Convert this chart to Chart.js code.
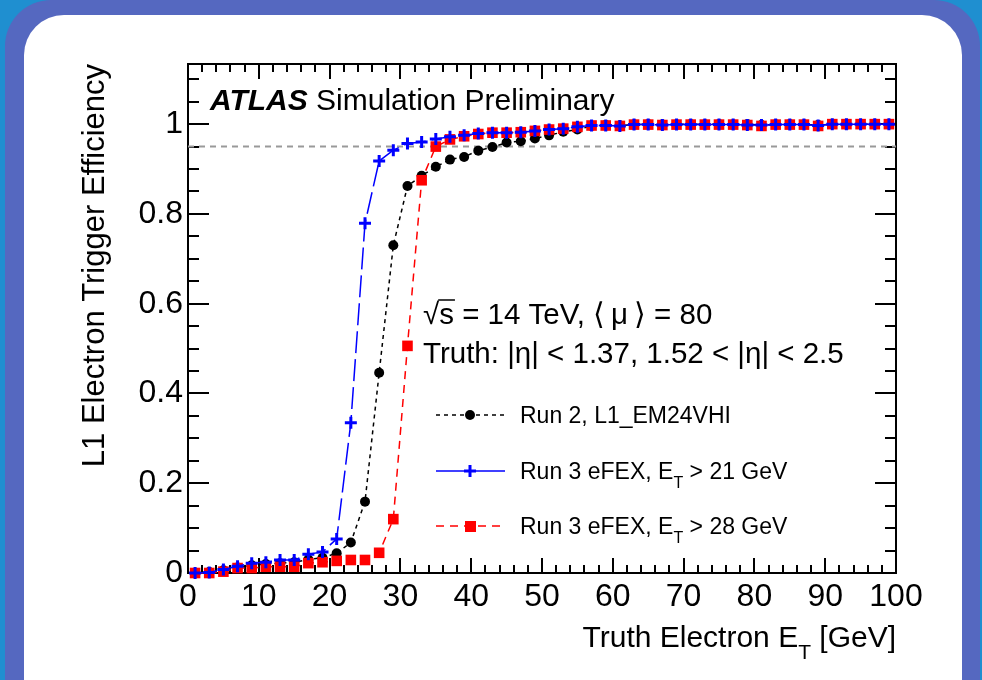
<!DOCTYPE html>
<html>
<head>
<meta charset="utf-8">
<script src="https://cdn.jsdelivr.net/npm/chart.js@4/dist/chart.umd.min.js"></script>
<style>
html, body { margin: 0; padding: 0; background: #1f8fd0; }
#wrap { width: 982px; height: 680px; }
</style>
</head>
<body>
<div id="wrap"><canvas id="eff" width="982" height="680"></canvas></div>
<script>
/*===== DATA =====*/

const truthEt = [1, 3, 5, 7, 9, 11, 13, 15, 17, 19,
                 21, 23, 25, 27, 29, 31, 33, 35, 37, 39,
                 41, 43, 45, 47, 49, 51, 53, 55, 57, 59,
                 61, 63, 65, 67, 69, 71, 73, 75, 77, 79,
                 81, 83, 85, 87, 89, 91, 93, 95, 97, 99];

// Run 2, L1_EM24VHI
const run2 = [0.000, 0.002, 0.006, 0.012, 0.017, 0.020, 0.022, 0.024, 0.030, 0.034,
              0.044, 0.068, 0.159, 0.446, 0.730, 0.862, 0.885, 0.905, 0.921, 0.927,
              0.941, 0.949, 0.959, 0.962, 0.968, 0.975, 0.983, 0.988, 0.996, 0.998,
              0.997, 0.999, 1.000, 0.999, 0.999, 1.000, 0.999, 1.000, 0.999, 1.000,
              0.998, 0.999, 1.000, 0.999, 0.998, 1.000, 0.999, 1.000, 1.000, 1.000];

// Run 3 eFEX, ET > 21 GeV
const efex21 = [0.000, 0.001, 0.008, 0.015, 0.022, 0.024, 0.029, 0.029, 0.042, 0.047,
                0.076, 0.335, 0.779, 0.918, 0.942, 0.957, 0.960, 0.967, 0.972, 0.975,
                0.979, 0.981, 0.981, 0.982, 0.985, 0.988, 0.990, 0.994, 0.997, 0.997,
                0.996, 0.999, 0.999, 0.998, 0.999, 0.999, 0.999, 0.999, 0.999, 0.998,
                0.998, 0.999, 0.999, 0.999, 0.997, 1.000, 1.000, 1.000, 1.000, 1.000];

// Run 3 eFEX, ET > 28 GeV
const efex28 = [0.000, 0.000, 0.003, 0.011, 0.011, 0.014, 0.014, 0.014, 0.022, 0.024,
                0.027, 0.029, 0.029, 0.045, 0.120, 0.506, 0.875, 0.950, 0.966, 0.973,
                0.978, 0.981, 0.981, 0.982, 0.985, 0.988, 0.990, 0.994, 0.997, 0.997,
                0.996, 0.999, 0.999, 0.998, 0.999, 0.999, 0.999, 0.999, 0.999, 0.998,
                0.996, 0.999, 0.999, 0.999, 0.996, 1.000, 1.000, 1.000, 1.000, 1.000];

const refLineEt = [0, 100];
const refLineEff = [0.95, 0.95];

const xTickLabels = ["0", "10", "20", "30", "40", "50", "60", "70", "80", "90", "100"];
const yTickLabels = ["0", "0.2", "0.4", "0.6", "0.8", "1"];

/*===== DRAWING HELPERS =====*/

const FONT = '"Liberation Sans", Arial, Helvetica, sans-serif';

var toPoints = function(xs, ys) {
    return xs.map(function(x, i) { return { x: x, y: ys[i] }; });
};

function drawFrame(chart) {
    const ctx = chart.ctx;
    const a = chart.chartArea;
    const x = chart.scales.x;
    const y = chart.scales.y;
    ctx.save();
    ctx.strokeStyle = "#000";
    ctx.lineWidth = 2;
    ctx.beginPath();
    for (let i = 0; i <= 50; i++) {
        const px = Math.round(x.getPixelForValue(i * 2));
        const len = i % 5 === 0 ? 15 : 8;
        ctx.moveTo(px, a.bottom); ctx.lineTo(px, a.bottom - len);
        ctx.moveTo(px, a.top); ctx.lineTo(px, a.top + len);
    }
    for (let i = 0; i * 0.05 <= y.max; i++) {
        const py = Math.round(y.getPixelForValue(i * 0.05));
        const len = i % 4 === 0 ? 21 : 11;
        ctx.moveTo(a.left, py); ctx.lineTo(a.left + len, py);
        ctx.moveTo(a.right, py); ctx.lineTo(a.right - len, py);
    }
    ctx.stroke();
    ctx.strokeRect(a.left, a.top, a.right - a.left, a.bottom - a.top);
    ctx.restore();
}

// text with an E_T style subscript, returns the end x
function subText(ctx, parts, x, y, size) {
    parts.forEach(function(p) {
        if (p.sub) {
            ctx.font = Math.round(size * 0.7) + "px " + FONT;
            ctx.fillText(p.sub, x, y + size * 0.4);
            x += ctx.measureText(p.sub).width;
        } else {
            ctx.font = size + "px " + FONT;
            ctx.fillText(p.t, x, y);
            x += ctx.measureText(p.t).width;
        }
    });
    return x;
}

function subWidth(ctx, parts, size) {
    let w = 0;
    parts.forEach(function(p) {
        ctx.font = (p.sub ? Math.round(size * 0.7) : size) + "px " + FONT;
        w += ctx.measureText(p.sub || p.t).width;
    });
    return w;
}

function legendRow(ctx, yc, kind, parts) {
    ctx.save();
    ctx.lineWidth = 1.5;
    if (kind === "run2") { ctx.strokeStyle = "#000"; ctx.setLineDash([4, 4]); }
    if (kind === "e21") { ctx.strokeStyle = "#0000ff"; ctx.setLineDash([]); }
    if (kind === "e28") { ctx.strokeStyle = "#ff0000"; ctx.setLineDash([8, 6]); }
    ctx.beginPath();
    ctx.moveTo(436, yc); ctx.lineTo(505, yc);
    ctx.stroke();
    ctx.setLineDash([]);
    if (kind === "run2") {
        ctx.fillStyle = "#000";
        ctx.beginPath(); ctx.arc(470, yc, 5, 0, Math.PI * 2); ctx.fill();
    }
    if (kind === "e21") {
        ctx.lineWidth = 3;
        ctx.beginPath();
        ctx.moveTo(464, yc); ctx.lineTo(476, yc);
        ctx.moveTo(470, yc - 6); ctx.lineTo(470, yc + 6);
        ctx.stroke();
    }
    if (kind === "e28") {
        ctx.fillStyle = "#ff0000";
        ctx.fillRect(465, yc - 5, 11, 11);
    }
    ctx.fillStyle = "#000";
    ctx.textBaseline = "alphabetic";
    subText(ctx, parts, 520, yc + 8, 23);
    ctx.restore();
}

function drawTexts(chart) {
    const ctx = chart.ctx;
    ctx.save();
    ctx.fillStyle = "#000";
    ctx.textBaseline = "alphabetic";

    ctx.font = "italic bold 30px " + FONT;
    ctx.fillText("ATLAS", 210, 110);
    const w = ctx.measureText("ATLAS").width;
    ctx.font = "30px " + FONT;
    ctx.fillText(" Simulation Preliminary", 210 + w, 110);

    // sqrt(s) line, overbar drawn by hand
    ctx.font = "29.5px " + FONT;
    let x = 423;
    ctx.fillText("\u221A", x, 324);
    x += ctx.measureText("\u221A").width;
    const sw = ctx.measureText("s").width;
    ctx.fillText("s", x, 324);
    ctx.lineWidth = 1.5;
    ctx.strokeStyle = "#000";
    ctx.beginPath(); ctx.moveTo(x - 1, 300); ctx.lineTo(x + sw + 1, 300); ctx.stroke();
    x += sw;
    ctx.fillText(" = 14 TeV, \u27E8\u2009\u03BC\u2009\u27E9 = 80", x, 324);

    ctx.fillText("Truth: |\u03B7| < 1.37, 1.52 < |\u03B7| < 2.5", 423, 363);

    legendRow(ctx, 415, "run2", [{ t: "Run 2, L1_EM24VHI" }]);
    legendRow(ctx, 471, "e21", [{ t: "Run 3 eFEX, E" }, { sub: "T" }, { t: " > 21 GeV" }]);
    legendRow(ctx, 526, "e28", [{ t: "Run 3 eFEX, E" }, { sub: "T" }, { t: " > 28 GeV" }]);

    // x axis title, right aligned to the frame
    const xt = [{ t: "Truth Electron E" }, { sub: "T" }, { t: " [GeV]" }];
    const xw = subWidth(ctx, xt, 30);
    subText(ctx, xt, chart.chartArea.right - xw, 647, 30);
    ctx.restore();
}

const panel = {
    id: "panel",
    beforeDraw(chart) {
        const ctx = chart.ctx;
        ctx.save();
        ctx.fillStyle = "#1f8fd0";
        ctx.fillRect(0, 0, chart.width, chart.height);
        ctx.fillStyle = "#5568c0";
        ctx.beginPath(); ctx.roundRect(5, 0, 975, 760, 46); ctx.fill();
        ctx.fillStyle = "#ffffff";
        ctx.beginPath(); ctx.roundRect(24, 15, 938, 760, 40); ctx.fill();
        ctx.restore();
    },
    beforeDatasetsDraw(chart) {
        drawFrame(chart);
    },
    afterDraw(chart) {
        drawTexts(chart);
    }
};

/*===== CHART =====*/

new Chart("eff", {
    type: "line",
    data: {
        datasets: [{
            label: "0.95",
            data: toPoints(refLineEt, refLineEff),
            borderColor: "#999999",
            borderWidth: 2,
            borderDash: [6, 5],
            pointRadius: 0,
            order: 4
        }, {
            label: "Run 2, L1_EM24VHI",
            data: toPoints(truthEt, run2),
            borderColor: "#000000",
            borderWidth: 1.5,
            borderDash: [4, 4],
            pointStyle: "circle",
            pointRadius: 5,
            pointBorderWidth: 0,
            pointBackgroundColor: "#000000",
            order: 3,
            clip: false
        }, {
            label: "Run 3 eFEX, ET > 28 GeV",
            data: toPoints(truthEt, efex28),
            borderColor: "#ff0000",
            borderWidth: 1.5,
            borderDash: [8, 6],
            pointStyle: "rect",
            pointRadius: 7.5,
            pointBorderWidth: 0,
            pointBackgroundColor: "#ff0000",
            order: 2,
            clip: false
        }, {
            label: "Run 3 eFEX, ET > 21 GeV",
            data: toPoints(truthEt, efex21),
            borderColor: "#0000ff",
            borderWidth: 1.5,
            borderDash: [22, 6],
            pointStyle: "cross",
            pointRadius: 6,
            pointBorderWidth: 3,
            pointBorderColor: "#0000ff",
            order: 1,
            clip: false
        }]
    },
    options: {
        responsive: false,
        animation: false,
        events: [],
        layout: { padding: { top: 64, right: 86, bottom: 0, left: 0 } },
        scales: {
            x: {
                type: "linear",
                min: 0,
                max: 100,
                afterFit: function(scale) { scale.height = 107; },
                grid: { display: false, drawTicks: false },
                border: { display: false },
                ticks: {
                    stepSize: 10,
                    autoSkip: false,
                    maxRotation: 0,
                    padding: 5,
                    color: "#000",
                    font: { family: FONT, size: 32 },
                    callback: function(v, i) { return xTickLabels[i]; }
                }
            },
            y: {
                type: "linear",
                min: 0,
                max: 1.134,
                afterFit: function(scale) { scale.width = 188; },
                grid: { display: false, drawTicks: false },
                border: { display: false },
                ticks: {
                    stepSize: 0.2,
                    includeBounds: false,
                    padding: 5,
                    color: "#000",
                    font: { family: FONT, size: 32 },
                    callback: function(v, i) { return yTickLabels[i]; }
                },
                title: {
                    display: true,
                    text: "L1 Electron Trigger Efficiency",
                    align: "end",
                    color: "#000",
                    font: { family: FONT, size: 31 },
                    padding: { top: 77, bottom: 0 }
                }
            }
        },
        plugins: {
            legend: { display: false },
            tooltip: { enabled: false }
        }
    },
    plugins: [panel]
});
</script>
</body>
</html>
